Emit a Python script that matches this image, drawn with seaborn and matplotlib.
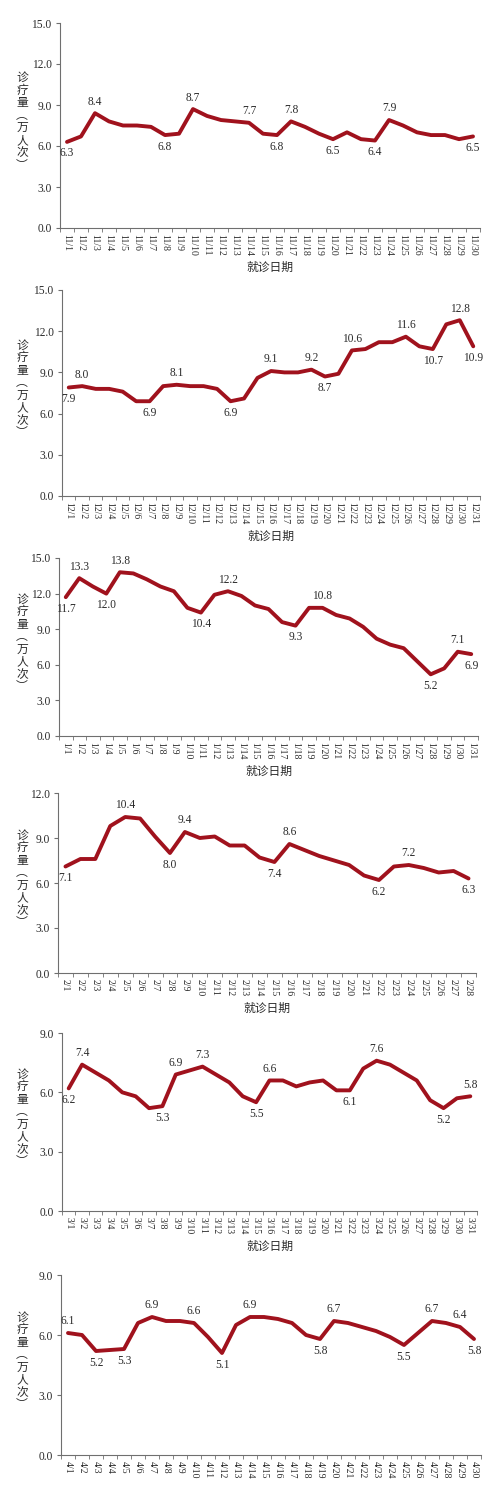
import numpy as np
import pandas as pd
import matplotlib
matplotlib.use("Agg")
import matplotlib.pyplot as plt
import seaborn as sns

# =========================
# Data (daily visits, 10k person-times)
# =========================
nov_vals = [6.3, 6.7, 8.4, 7.8, 7.5, 7.5, 7.4, 6.8, 6.9, 8.7,
            8.2, 7.9, 7.8, 7.7, 6.9, 6.8, 7.8, 7.4, 6.9, 6.5,
            7.0, 6.5, 6.4, 7.9, 7.5, 7.0, 6.8, 6.8, 6.5, 6.7]
dec_vals = [7.9, 8.0, 7.8, 7.8, 7.6, 6.9, 6.9, 8.0, 8.1, 8.0,
            8.0, 7.8, 6.9, 7.1, 8.6, 9.1, 9.0, 9.0, 9.2, 8.7,
            8.9, 10.6, 10.7, 11.2, 11.2, 11.6, 10.9, 10.7, 12.5, 12.8, 10.9]
jan_vals = [11.7, 13.3, 12.6, 12.0, 13.8, 13.7, 13.2, 12.6, 12.2, 10.8,
            10.4, 11.9, 12.2, 11.8, 11.0, 10.7, 9.6, 9.3, 10.8, 10.8,
            10.2, 9.9, 9.2, 8.2, 7.7, 7.4, 6.3, 5.2, 5.7, 7.1, 6.9]
feb_vals = [7.1, 7.6, 7.6, 9.8, 10.4, 10.3, 9.1, 8.0, 9.4, 9.0,
            9.1, 8.5, 8.5, 7.7, 7.4, 8.6, 8.2, 7.8, 7.5, 7.2,
            6.5, 6.2, 7.1, 7.2, 7.0, 6.7, 6.8, 6.3]
mar_vals = [6.2, 7.4, 7.0, 6.6, 6.0, 5.8, 5.2, 5.3, 6.9, 7.1,
            7.3, 6.9, 6.5, 5.8, 5.5, 6.6, 6.6, 6.3, 6.5, 6.6,
            6.1, 6.1, 7.2, 7.6, 7.4, 7.0, 6.6, 5.6, 5.2, 5.7, 5.8]
apr_vals = [6.1, 6.0, 5.2, 5.25, 5.3, 6.6, 6.9, 6.7, 6.7, 6.6,
            5.9, 5.1, 6.5, 6.9, 6.9, 6.8, 6.6, 6.0, 5.8, 6.7,
            6.6, 6.4, 6.2, 5.9, 5.5, 6.1, 6.7, 6.6, 6.4, 5.8]

# data labels: (day index, text, above/below)
nov_labels = [(0, "6.3", "b"), (2, "8.4", "a"), (7, "6.8", "b"), (9, "8.7", "a"),
              (13, "7.7", "a"), (15, "6.8", "b"), (16, "7.8", "a"), (19, "6.5", "b"),
              (22, "6.4", "b"), (23, "7.9", "a"), (29, "6.5", "b")]
dec_labels = [(0, "7.9", "b"), (1, "8.0", "a"), (6, "6.9", "b"), (8, "8.1", "a"),
              (12, "6.9", "b"), (15, "9.1", "a"), (18, "9.2", "a"), (19, "8.7", "b"),
              (21, "10.6", "a"), (25, "11.6", "a"), (27, "10.7", "b"), (29, "12.8", "a"),
              (30, "10.9", "b")]
jan_labels = [(0, "11.7", "b"), (1, "13.3", "a"), (3, "12.0", "b"), (4, "13.8", "a"),
              (10, "10.4", "b"), (12, "12.2", "a"), (17, "9.3", "b"), (19, "10.8", "a"),
              (27, "5.2", "b"), (29, "7.1", "a"), (30, "6.9", "b")]
feb_labels = [(0, "7.1", "b"), (4, "10.4", "a"), (7, "8.0", "b"), (8, "9.4", "a"),
              (14, "7.4", "b"), (15, "8.6", "a"), (21, "6.2", "b"), (23, "7.2", "a"),
              (27, "6.3", "b")]
mar_labels = [(0, "6.2", "b"), (1, "7.4", "a"), (7, "5.3", "b"), (8, "6.9", "a"),
              (10, "7.3", "a"), (14, "5.5", "b"), (15, "6.6", "a"), (21, "6.1", "b"),
              (23, "7.6", "a"), (28, "5.2", "b"), (30, "5.8", "a")]
apr_labels = [(0, "6.1", "a"), (2, "5.2", "b"), (4, "5.3", "b"), (6, "6.9", "a"),
              (9, "6.6", "a"), (11, "5.1", "b"), (13, "6.9", "a"), (18, "5.8", "b"),
              (19, "6.7", "a"), (24, "5.5", "b"), (26, "6.7", "a"), (28, "6.4", "a"),
              (29, "5.8", "b")]

months = [11, 12, 1, 2, 3, 4]
y_max = [15, 15, 15, 12, 9, 9]
show_xlabel = [True, True, True, True, True, False]
all_vals = [nov_vals, dec_vals, jan_vals, feb_vals, mar_vals, apr_vals]
all_labels = [nov_labels, dec_labels, jan_labels, feb_labels, mar_labels, apr_labels]

# axes boxes in pixels: left, right, top, bottom
boxes = [(60, 480, 23, 228), (62, 480, 290, 496), (59, 478, 558, 736),
         (58, 476, 793, 973), (62, 477, 1033, 1211), (61, 481, 1275, 1455)]

# =========================
# Style
# =========================
sns.set_style("white")
plt.rcParams['font.family'] = ['Liberation Serif', 'Noto Sans CJK SC', 'DejaVu Sans']
cjk = ['Noto Sans CJK SC', 'DejaVu Sans']
line_color = "#a0121d"
axis_color = "#6f6f6f"
text_color = "#2b2b2b"

W, H = 500, 1502
fig = plt.figure(figsize=(W / 100, H / 100), dpi=100)

for k in range(6):
    vals = all_vals[k]
    n = len(vals)
    df = pd.DataFrame({"day": np.arange(n), "visits": vals})
    l, r, t, b = boxes[k]
    ax = fig.add_axes([l / W, 1 - b / H, (r - l) / W, (b - t) / H])

    sns.lineplot(data=df, x="day", y="visits", ax=ax, color=line_color,
                 linewidth=2.8, solid_joinstyle="round", solid_capstyle="round")

    for idx, txt, pos in all_labels[k]:
        off = 4 if pos == "a" else -4
        ax.annotate(txt, (idx, vals[idx]), xytext=(0, off), textcoords="offset points",
                    ha="center", va="bottom" if pos == "a" else "top",
                    fontsize=8.3, color=text_color)

    ax.set_xlim(-0.5, n - 0.5)
    ax.set_ylim(0, y_max[k])
    ax.set_yticks(np.arange(0, y_max[k] + 0.1, 3))
    ax.set_yticklabels([f"{v:.1f}" for v in np.arange(0, y_max[k] + 0.1, 3)])
    ax.set_xticks(np.arange(n))
    ax.set_xticklabels([f"{months[k]}/{d + 1}" for d in range(n)], rotation=-90)
    ax.set_xticks(np.arange(n + 1) - 0.5, minor=True)
    ax.tick_params(axis="x", which="major", length=0, pad=4, labelsize=7,
                   labelcolor=text_color)
    ax.tick_params(axis="x", which="minor", length=3, direction="out", color=axis_color,
                   bottom=True)
    ax.tick_params(axis="y", length=3, direction="out", color=axis_color, labelsize=8.3,
                   labelcolor=text_color, left=True, pad=3)

    sns.despine(ax=ax)
    for s in ["left", "bottom"]:
        ax.spines[s].set_color(axis_color)
        ax.spines[s].set_linewidth(0.8)

    ax.set_xlabel("就诊日期" if show_xlabel[k] else "", family=cjk, fontsize=8.5,
                  color=text_color, labelpad=4)
    ax.set_ylabel("")

    # vertical y label
    fig.text(22 / W, 1 - ((t + b) / 2 - 4) / H, "诊\n疗\n量\n︵\n万\n人\n次\n︶",
             family=cjk, fontsize=8.5, color=text_color, ha="center", va="center",
             linespacing=0.95)

plt.savefig("out.png", dpi=100)
